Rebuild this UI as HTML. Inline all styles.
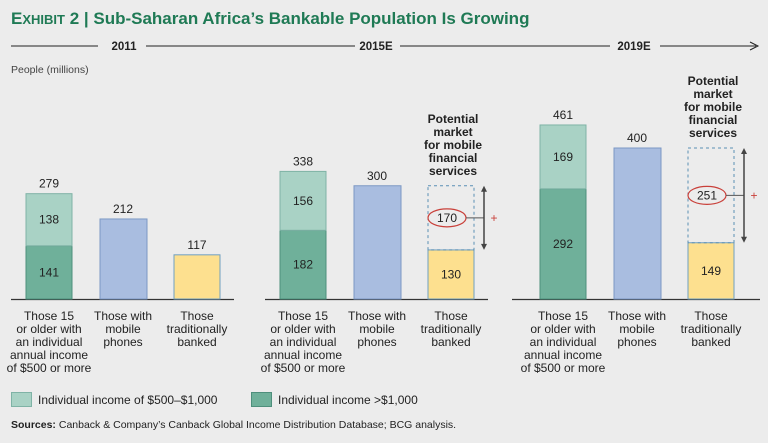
<!DOCTYPE html>
<html><head><meta charset="utf-8"><style>
body{margin:0;background:#ececec;}
svg text{font-family:"Liberation Sans",sans-serif;}
</style></head><body>
<svg width="768" height="438" viewBox="0 0 768 438">
<rect width="768" height="438" fill="#ececec"/>
<text x="11" y="24" font-size="17" font-weight="bold" fill="#1f7a55"><tspan font-size="17">E</tspan><tspan font-size="13">XHIBIT</tspan> 2 | Sub-Saharan Africa’s Bankable Population Is Growing</text>
<g>
<line x1="11" y1="46" x2="98" y2="46" stroke="#222" stroke-width="1"/>
<text x="124" y="50" font-size="11.5" font-weight="bold" text-anchor="middle" fill="#222">2011</text>
<line x1="146" y1="46" x2="355" y2="46" stroke="#222"/>
<text x="376" y="50" font-size="11.5" font-weight="bold" text-anchor="middle" fill="#222">2015E</text>
<line x1="400" y1="46" x2="610" y2="46" stroke="#222"/>
<text x="634" y="50" font-size="11.5" font-weight="bold" text-anchor="middle" fill="#222">2019E</text>
<line x1="660" y1="46" x2="756" y2="46" stroke="#222"/>
<path d="M750,42 L758,46 L750,50" fill="none" stroke="#222"/>
</g>
<text x="11" y="73" font-size="10.5" fill="#444">People (millions)</text>
<g id="chart"></g>
<g>
<rect x="11.5" y="392.5" width="20" height="14" fill="#a9d2c5" stroke="#7fb3a6"/>
<text x="38" y="404" font-size="12" fill="#222">Individual income of $500–$1,000</text>
<rect x="251.5" y="392.5" width="20" height="14" fill="#6fb09a" stroke="#4e8f7c"/>
<text x="278" y="404" font-size="12" fill="#222">Individual income &gt;$1,000</text>
</g>
<text x="11" y="428" font-size="10.5" fill="#222"><tspan font-weight="bold">Sources:</tspan> Canback &amp; Company’s Canback Global Income Distribution Database; BCG analysis.</text>
</svg>
<script>
const years=["2011","2015E","2019E"];
const incomeHigh=[141,182,292];
const incomeMid=[138,156,169];
const mobile=[212,300,400];
const banked=[117,130,149];
const potential=[null,170,251];
const catLabels=[["Those 15","or older with","an individual","annual income","of $500 or more"],["Those with","mobile","phones"],["Those","traditionally","banked"]];

const NS="http://www.w3.org/2000/svg";
const g=document.getElementById('chart');
const base=299, k=0.3775;
const y=v=>base-v*k;
const groupX=[26,280,540];
const offs=[0,74,148];
const bw=46;
function mk(tag,attrs,parent){const e=document.createElementNS(NS,tag);for(const a in attrs)e.setAttribute(a,attrs[a]);(parent||g).appendChild(e);return e;}
function txt(x,yy,s,opt){const t=mk('text',Object.assign({x:x,y:yy,'font-size':12,'text-anchor':'middle',fill:'#222'},opt||{}));t.textContent=s;return t;}
const baseLines=[[11,234],[265,488],[512,760]];
for(let i=0;i<3;i++){
  const gx=groupX[i];
  const bl=mk('line',{x1:baseLines[i][0],x2:baseLines[i][1],y1:base+0.5,y2:base+0.5,stroke:'#333','stroke-width':1.2});
  
  
  const tot=incomeHigh[i]+incomeMid[i];
  let r=mk('rect',{x:gx,y:y(incomeHigh[i]),width:bw,height:incomeHigh[i]*k,fill:'#6fb09a',stroke:'#4e8f7c'});
  
  
  r=mk('rect',{x:gx,y:y(tot),width:bw,height:incomeMid[i]*k,fill:'#a9d2c5',stroke:'#7fb3a6'});
  
  
  txt(gx+bw/2,y(incomeHigh[i]/2)+4,incomeHigh[i]);
  txt(gx+bw/2,y(incomeHigh[i]+incomeMid[i]/2)+4,incomeMid[i]);
  txt(gx+bw/2,y(tot)-6,tot);
  const mx=gx+offs[1];
  r=mk('rect',{x:mx,y:y(mobile[i]),width:bw+1,height:mobile[i]*k,fill:'#a9bde0',stroke:'#7c98c4'});
  
  
  txt(mx+bw/2,y(mobile[i])-6,mobile[i]);
  const bx=gx+offs[2];
  r=mk('rect',{x:bx,y:y(banked[i]),width:bw,height:banked[i]*k,fill:'#fde08f',stroke:'#6f9fc0'});
  
  
  if(potential[i]==null){
    txt(bx+bw/2,y(banked[i])-6,banked[i]);
  }else{
    txt(bx+bw/2,y(banked[i]/2)+4,banked[i]);
    const top=banked[i]+potential[i];
    r=mk('rect',{x:bx,y:y(top),width:bw,height:potential[i]*k,fill:'none',stroke:'#5a8fb5','stroke-dasharray':'3,3'});
    
    
    const cy=y(banked[i]+potential[i]*0.5);
    const e=mk('ellipse',{cx:bx+bw/2-4,cy:cy,rx:19,ry:9,fill:'none',stroke:'#c9403a','stroke-width':1.2});
    
    
    txt(bx+bw/2-4,cy+4,potential[i]);
    const ax=bx+bw+10;
    mk('line',{x1:bx+bw/2+15,x2:ax,y1:cy,y2:cy,stroke:'#555'});
    const ar=mk('line',{x1:ax,x2:ax,y1:y(top)+2,y2:y(banked[i])-2,stroke:'#444','stroke-width':1.5});
    
    
    mk('path',{d:`M${ax-3},${y(top)+6} L${ax},${y(top)} L${ax+3},${y(top)+6}Z`,fill:'#444'});
    mk('path',{d:`M${ax-3},${y(banked[i])-6} L${ax},${y(banked[i])} L${ax+3},${y(banked[i])-6}Z`,fill:'#444'});
    txt(ax+10,cy+4,'+',{fill:'#c9403a','font-size':12});
    const pl=["Potential","market","for mobile","financial","services"];
    pl.forEach((s,j)=>{const t=txt(bx+bw/2+2,y(top)-63+j*13,s,{'font-weight':'bold','font-size':12});
      
      });
  }
  [gx,mx,bx].forEach((cx,c)=>{
    catLabels[c].forEach((s,j)=>{const t=txt(cx+bw/2,320+j*13,s,{'font-size':12});
      
      });
  });
}
</script>
</body></html>
